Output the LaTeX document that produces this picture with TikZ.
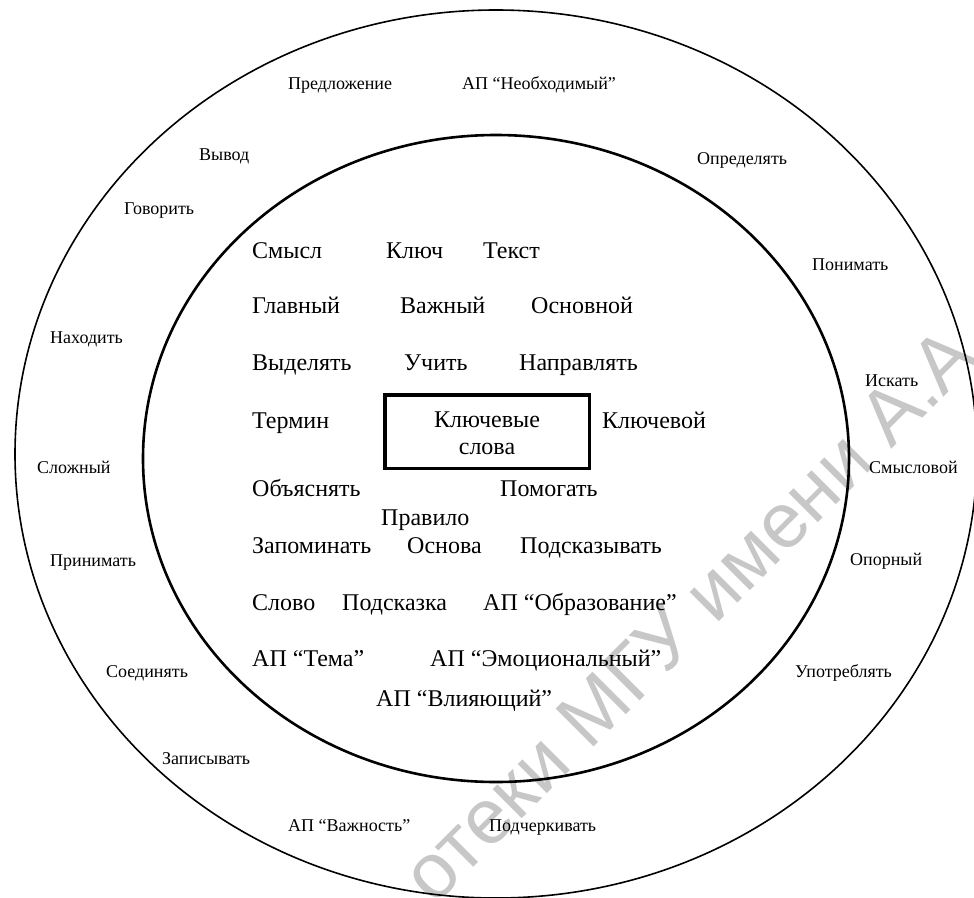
\documentclass[tikz,border=0pt]{standalone}
\usepackage{fontspec}
\setmainfont{Liberation Serif}
\newfontfamily\tnr{Liberation Serif}
\newfontfamily\wmfont{Liberation Sans}
\begin{document}
\begin{tikzpicture}[x=1pt,y=-1pt,
  inword/.style={anchor=base west,inner sep=0pt,font=\tnr\fontsize{24}{27}\selectfont},
  outword/.style={anchor=base west,inner sep=0pt,font=\tnr\fontsize{18}{20}\selectfont},
  boxtext/.style={anchor=base,inner sep=0pt,font=\tnr\fontsize{24}{27}\selectfont},
  ring/.style={draw=black},
  keybox/.style={draw=black,line width=3.5pt,minimum width=204.5pt,minimum height=73.5pt,inner sep=0pt},
  watermark/.style={anchor=base west,inner sep=0pt,rotate=45,text=black!22,font=\wmfont\fontsize{78}{78}\selectfont}]
\useasboundingbox (0,0) rectangle (974,897);
\clip (0,0) rectangle (974,897);
\fill[white] (0,0) rectangle (974,897);
% watermark (behind)
\node[watermark] (wm) at (434,907) {отеки МГУ имени А.А};
% rings
\draw[ring,line width=1.6pt] (496,454) ellipse [x radius=481, y radius=444];
\draw[ring,line width=2.6pt] (496,458.5) ellipse [x radius=353, y radius=323.5];
% central box
\node[keybox] (box) at (487,431.5) {};
\node[boxtext] (k1) at (487,427) {Ключевые};
\node[boxtext] (k2) at (487,454) {слова};
% inner words
\node[inword] (i1) at (252,258) {Смысл};
\node[inword] (i2) at (386,258) {Ключ};
\node[inword] (i3) at (483,258) {Текст};
\node[inword] (i4) at (252,313) {Главный};
\node[inword] (i5) at (400,313) {Важный};
\node[inword] (i6) at (531,313) {Основной};
\node[inword] (i7) at (252,370) {Выделять};
\node[inword] (i8) at (404,370) {Учить};
\node[inword] (i9) at (519,370) {Направлять};
\node[inword] (i10) at (252,428) {Термин};
\node[inword] (i11) at (602,428) {Ключевой};
\node[inword] (i12) at (252,496) {Объяснять};
\node[inword] (i13) at (500,496) {Помогать};
\node[inword] (i14) at (381,525) {Правило};
\node[inword] (i15) at (252,553) {Запоминать};
\node[inword] (i16) at (407,553) {Основа};
\node[inword] (i17) at (520,553) {Подсказывать};
\node[inword] (i18) at (252,610) {Слово};
\node[inword] (i19) at (342,610) {Подсказка};
\node[inword] (i20) at (483,610) {АП “Образование”};
\node[inword] (i21) at (252,666) {АП “Тема”};
\node[inword] (i22) at (430,666) {АП “Эмоциональный”};
\node[inword] (i23) at (376,706) {АП “Влияющий”};
% outer words
\node[outword] (o1) at (288,89) {Предложение};
\node[outword] (o2) at (462,89) {АП “Необходимый”};
\node[outword] (o3) at (199,160) {Вывод};
\node[outword] (o4) at (697,164) {Определять};
\node[outword] (o5) at (124,214) {Говорить};
\node[outword] (o6) at (812,270) {Понимать};
\node[outword] (o7) at (50,343) {Находить};
\node[outword] (o8) at (865,386) {Искать};
\node[outword] (o9) at (37,473) {Сложный};
\node[outword] (o10) at (869,473) {Смысловой};
\node[outword] (o11) at (50,566) {Принимать};
\node[outword] (o12) at (850,565) {Опорный};
\node[outword] (o13) at (106,677) {Соединять};
\node[outword] (o14) at (795,677) {Употреблять};
\node[outword] (o15) at (162,764) {Записывать};
\node[outword] (o16) at (288,831) {АП “Важность”};
\node[outword] (o17) at (489,831) {Подчеркивать};
\end{tikzpicture}
\end{document}
